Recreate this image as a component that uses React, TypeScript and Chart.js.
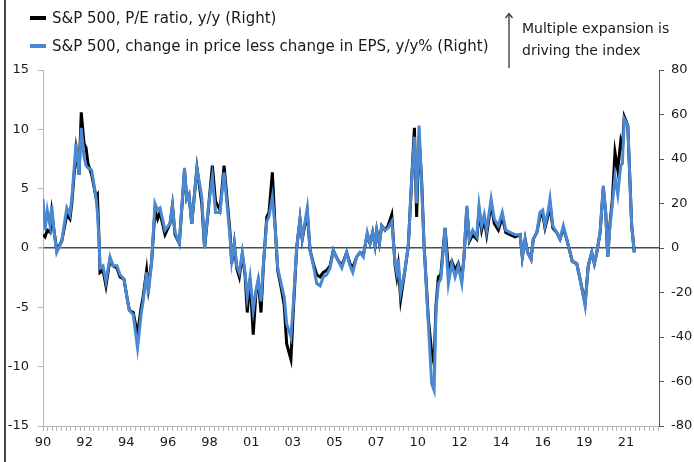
import React, { useEffect, useRef } from "react";
import { Chart, registerables } from "chart.js";

Chart.register(...registerables);

// Dates as decimal years
const dates = [
  1990.00, 1990.11, 1990.23, 1990.38, 1990.47, 1990.59, 1990.74, 1991.01, 1991.28, 1991.45,
  1991.55, 1991.78, 1991.94, 1992.06, 1992.21, 1992.32, 1992.42, 1992.62, 1992.85, 1992.93,
  1993.03, 1993.07, 1993.23, 1993.39, 1993.61, 1993.77, 1993.98, 1994.15, 1994.36, 1994.54,
  1994.65, 1994.86, 1995.09, 1995.28, 1995.39, 1995.58, 1995.67, 1995.85, 1996.03, 1996.17,
  1996.30, 1996.57, 1996.84, 1996.97, 1997.11, 1997.34, 1997.62, 1997.74, 1997.86, 1998.01,
  1998.29, 1998.55, 1998.70, 1998.90, 1999.12, 1999.29, 1999.53, 1999.75, 2000.07, 2000.16,
  2000.30, 2000.43, 2000.57, 2000.73, 2000.88, 2001.00, 2001.15, 2001.32, 2001.47, 2001.59,
  2001.74, 2001.86, 2002.05, 2002.17, 2002.35, 2002.49, 2002.64, 2002.85, 2002.99, 2003.12,
  2003.35, 2003.48, 2003.66, 2003.84, 2003.96, 2004.23, 2004.38, 2004.56, 2004.74, 2004.92,
  2005.09, 2005.28, 2005.46, 2005.63, 2005.85, 2006.09, 2006.35, 2006.53, 2006.68, 2006.89,
  2007.07, 2007.25, 2007.46, 2007.61, 2007.75, 2007.88, 2007.97, 2008.11, 2008.24, 2008.42,
  2008.58, 2008.78, 2008.96, 2009.05, 2009.13, 2009.26, 2009.49, 2009.67, 2009.86, 2010.00,
  2010.12, 2010.25, 2010.39, 2010.52, 2010.75, 2010.93, 2011.06, 2011.16, 2011.29, 2011.42,
  2011.65, 2011.83, 2012.01, 2012.19, 2012.36, 2012.55, 2012.67, 2012.82, 2012.96, 2013.14,
  2013.36, 2013.48, 2013.62, 2013.76, 2013.89, 2014.13, 2014.30, 2014.52, 2014.73, 2014.92,
  2015.15, 2015.42, 2015.69, 2015.81, 2015.96, 2016.10, 2016.28, 2016.40, 2016.59, 2016.76,
  2016.91, 2017.03, 2017.21, 2017.30, 2017.45, 2017.66, 2017.84, 2018.02, 2018.20, 2018.38,
  2018.50, 2018.74, 2018.92, 2019.19, 2019.36, 2019.55, 2019.69, 2019.82, 2020.00, 2020.17,
  2020.30, 2020.41, 2020.53, 2020.66, 2020.80, 2020.95, 2021.11, 2021.20, 2021.30, 2021.49,
  2021.61, 2021.70, 2021.84,
];

// S&P 500, P/E ratio, y/y (black)
const peRatioYoY = [
  6, 5, 8, 7, 16, 8, -1, 3, 15, 13,
  20, 44, 33, 61, 47, 45, 38, 33, 23, 24,
  1, -11, -10, -17, -5, -8, -9, -13, -14, -23,
  -28, -29, -39, -27, -22, -10, -18, -6, 17, 13,
  16, 6, 11, 19, 6, 2, 35, 22, 24, 11,
  36, 20, 0, 17, 37, 21, 17, 37, 7, -7,
  2, -9, -13, -3, -12, -29, -14, -39, -20, -15,
  -29, -9, 14, 16, 34, 11, -10, -19, -26, -43,
  -50, -28, 0, 13, 4, 16, -1, -7, -12, -13,
  -11, -10, -8, -1, -5, -8, -2, -7, -9, -4,
  -2, -3, 6, 2, 7, 1, 8, 2, 10, 8,
  10, 15, -8, -13, -8, -23, -10, 1, 32, 54,
  14, 50, 30, 1, -32, -47, -52, -26, -13, -12,
  9, -9, -6, -10, -7, -14, -4, 18, 3, 6,
  4, 17, 8, 13, 6, 20, 11, 8, 14, 7,
  6, 5, 6, -4, 4, -2, -5, 4, 7, 14,
  15, 9, 15, 20, 9, 7, 4, 9, 4, -2,
  -6, -7, -14, -25, -8, -2, -7, -2, 7, 27,
  16, -4, 11, 22, 43, 35, 48, 45, 59, 55,
  29, 10, -2,
];

// S&P 500, change in price less change in EPS, y/y% (blue)
const priceLessEpsYoY = [
  22, 8, 17, 10, 19, 8, -2, 3, 18, 15,
  22, 47, 33, 54, 41, 37, 36, 35, 23, 16,
  1, -9, -8, -15, -4, -8, -8, -12, -14, -23,
  -28, -30, -45, -30, -24, -11, -21, -6, 20, 17,
  18, 8, 11, 19, 7, 2, 36, 22, 24, 11,
  36, 23, 0, 18, 32, 16, 16, 34, 5, -6,
  2, -8, -11, -2, -11, -22, -13, -28, -19, -14,
  -24, -8, 12, 14, 23, 10, -9, -17, -22, -34,
  -40, -25, 0, 13, 4, 18, -1, -8, -16, -17,
  -13, -12, -9, -1, -5, -9, -2, -8, -11, -4,
  -2, -4, 7, 2, 7, 1, 8, 2, 10, 8,
  9, 12, -7, -11, -5, -20, -10, 1, 32, 50,
  20, 55, 28, 1, -34, -61, -64, -28, -16, -14,
  9, -16, -7, -13, -8, -16, -4, 19, 4, 8,
  5, 19, 10, 15, 8, 22, 13, 10, 16, 8,
  7, 6, 6, -4, 4, -2, -5, 4, 7, 16,
  17, 10, 17, 22, 10, 7, 4, 10, 4, -2,
  -6, -7, -14, -26, -8, -2, -7, -2, 7, 28,
  16, -4, 10, 20, 32, 24, 37, 38, 58, 55,
  29, 10, -2,
];

const xTickLabels = ["90", "92", "94", "96", "98", "01", "03", "05", "07", "10", "12", "14", "16", "19", "21"];
const seriesNames = [
  "S&P 500, P/E ratio, y/y (Right)",
  "S&P 500, change in price less change in EPS, y/y% (Right)",
];
const annotationLines = ["Multiple expansion is", "driving the index"];

const X_MIN = 1990;
const X_MAX = 2023.17;
const LABEL_STEP = 117 / 52.1775; // years between labelled ticks
const MINOR_PER_LABEL = 9;

const FONT = "'DejaVu Sans', Verdana, sans-serif";
const BLUE = "#4A88D2";

export default function App() {
  const ref = useRef<HTMLCanvasElement | null>(null);

  useEffect(() => {
    if (!ref.current) return;
    const tickFont = { family: FONT, size: 13 };
    const chart = new Chart(ref.current, {
      type: "line",
      data: {
        datasets: [
          {
            label: seriesNames[0],
            data: dates.map((d, i) => ({ x: d, y: peRatioYoY[i] })),
            borderColor: "#000000",
            borderWidth: 3,
            pointRadius: 0,
            yAxisID: "y1",
            order: 2,
          },
          {
            label: seriesNames[1],
            data: dates.map((d, i) => ({ x: d, y: priceLessEpsYoY[i] })),
            borderColor: BLUE,
            borderWidth: 3,
            pointRadius: 0,
            yAxisID: "y1",
            order: 1,
          },
        ],
      },
      options: {
        responsive: false,
        animation: false,
        layout: { padding: { top: 70, left: 0, right: 0, bottom: 0 } },
        plugins: { legend: { display: false }, tooltip: { enabled: false } },
        scales: {
          x: {
            type: "linear",
            min: X_MIN,
            max: X_MAX,
            afterBuildTicks: (s: any) => {
              const ticks = [];
              const step = LABEL_STEP / MINOR_PER_LABEL;
              for (let k = 0; X_MIN + k * step <= X_MAX + 1e-9; k++) {
                ticks.push({ value: X_MIN + k * step });
              }
              s.ticks = ticks;
            },
            afterFit: (s: any) => {
              s.height = 36;
            },
            ticks: {
              autoSkip: false,
              maxRotation: 0,
              minRotation: 0,
              padding: 4,
              color: "#1a1a1a",
              font: tickFont,
              callback: (_v: any, i: number) =>
                i % MINOR_PER_LABEL === 0 ? xTickLabels[i / MINOR_PER_LABEL] ?? "" : "",
            },
            grid: { drawOnChartArea: false, tickLength: 5, tickColor: "#b5b5b5", color: "#b5b5b5" },
            border: { color: "#b5b5b5", width: 1 },
          },
          y: {
            position: "left",
            min: -15,
            max: 15,
            afterFit: (s: any) => {
              s.width = 43;
            },
            ticks: { stepSize: 5, color: "#1a1a1a", font: tickFont, padding: 9 },
            grid: {
              color: (ctx: any) => (ctx.tick && ctx.tick.value === 0 ? "#3e5058" : "rgba(0,0,0,0)"),
              lineWidth: (ctx: any) => (ctx.tick && ctx.tick.value === 0 ? 1.5 : 1),
              tickColor: "#b5b5b5",
              tickLength: 5,
            },
            border: { color: "#b5b5b5", width: 1 },
          },
          y1: {
            position: "right",
            min: -80,
            max: 80,
            afterFit: (s: any) => {
              s.width = 35;
            },
            ticks: { stepSize: 20, color: "#1a1a1a", font: tickFont, padding: 7 },
            grid: { drawOnChartArea: false, tickColor: "#555", tickLength: 5 },
            border: { color: "#555", width: 1 },
          },
        },
      },
    });
    return () => chart.destroy();
  }, []);

  const textStyle: React.CSSProperties = {
    position: "absolute",
    fontFamily: FONT,
    color: "#1a1a1a",
    whiteSpace: "nowrap",
    lineHeight: "18px",
  };

  return (
    <div style={{ position: "absolute", left: 0, top: 0, width: 694, height: 462, background: "#fff", overflow: "hidden" }}>
      <canvas ref={ref} width={694} height={462} style={{ position: "absolute", left: 0, top: 0 }} />
      <div style={{ position: "absolute", left: 4, top: 0, width: 2, height: 462, background: "#444" }} />
      <div style={{ position: "absolute", left: 30, top: 16, width: 16, height: 4, background: "#000" }} />
      <div style={{ ...textStyle, fontSize: 15, left: 52, top: 9 }}>{seriesNames[0]}</div>
      <div style={{ position: "absolute", left: 30, top: 44, width: 16, height: 4, background: BLUE }} />
      <div style={{ ...textStyle, fontSize: 15, left: 52, top: 37 }}>{seriesNames[1]}</div>
      <svg style={{ position: "absolute", left: 503, top: 12 }} width={12} height={58}>
        <line x1={6} y1={2} x2={6} y2={56} stroke="#333" strokeWidth={1.3} />
        <polyline points="2.5,6 6,1.5 9.5,6" fill="none" stroke="#333" strokeWidth={1.3} />
      </svg>
      <div style={{ ...textStyle, fontSize: 14, left: 522, top: 19 }}>{annotationLines[0]}</div>
      <div style={{ ...textStyle, fontSize: 14, left: 522, top: 41 }}>{annotationLines[1]}</div>
    </div>
  );
}
